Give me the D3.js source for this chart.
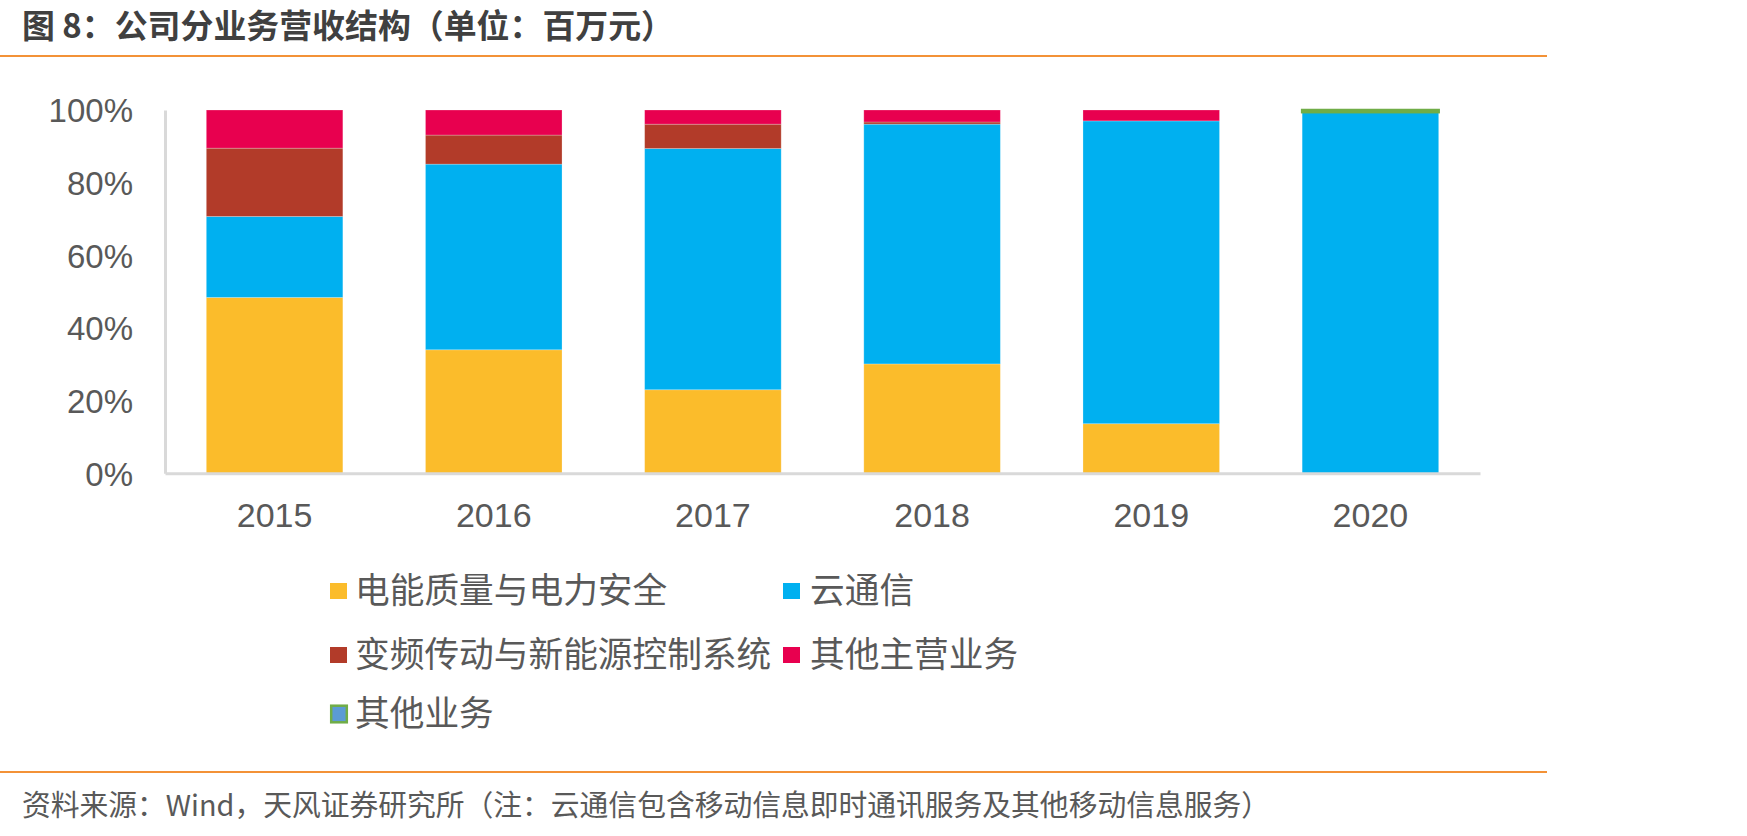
<!DOCTYPE html>
<html>
<head>
<meta charset="utf-8">
<script src="https://cdn.jsdelivr.net/npm/d3@7/dist/d3.min.js"></script>
<style>
  html, body { margin: 0; padding: 0; background: #fff; }
  svg { display: block; }
</style>
</head>
<body>
<svg id="chart" width="1747" height="836"></svg>
<script>
// ---- data ----
const years = ["2015", "2016", "2017", "2018", "2019", "2020"];
const seriesNames = ["电能质量与电力安全", "云通信", "变频传动与新能源控制系统", "其他主营业务", "其他业务"];
const powerQuality = [48.4, 34.0, 23.0, 30.1, 13.65, 0];
const cloudComm    = [22.3, 51.1, 66.4, 66.0, 83.35, 99.4];
const inverter     = [18.8, 8.0, 6.7, 0.6, 0, 0];
const otherMain    = [10.5, 6.9, 3.9, 3.3, 3.0, 0];
const otherBiz     = [0, 0, 0, 0, 0, 0.6];
const yTicks = [0, 20, 40, 60, 80, 100];
const titleText = "图 8：公司分业务营收结构（单位：百万元）";
const sourceText = "资料来源：Wind，天风证券研究所（注：云通信包含移动信息即时通讯服务及其他移动信息服务）";

const colors = ["#FBBC2B", "#00B0F0", "#B23B29", "#E8004F", "#5B9BD5"];
const strokes = [null, null, null, null, "#70AD47"];

const seriesValues = [powerQuality, cloudComm, inverter, otherMain, otherBiz];
const table = years.map((y, i) => {
  const row = { year: y };
  seriesNames.forEach((s, k) => row[s] = seriesValues[k][i]);
  return row;
});

const svg = d3.select("#chart");
const cjk = "'Noto Sans CJK SC', 'Noto Sans', sans-serif";
const latin = "'Liberation Sans', Arial, sans-serif";

// ---- title & rules ----
svg.append("text")
  .attr("x", 22).attr("y", 38)
  .attr("font-family", cjk).attr("font-size", 33).attr("font-weight", 700)
  .attr("fill", "#404040")
  .attr("textLength", 652).attr("lengthAdjust", "spacingAndGlyphs")
  .text(titleText);

svg.append("line").attr("x1", 0).attr("x2", 1547).attr("y1", 56).attr("y2", 56)
  .attr("stroke", "#F39237").attr("stroke-width", 2.2);
svg.append("line").attr("x1", 0).attr("x2", 1547).attr("y1", 772).attr("y2", 772)
  .attr("stroke", "#F39237").attr("stroke-width", 2.2);

svg.append("text")
  .attr("x", 22).attr("y", 816)
  .attr("font-family", cjk).attr("font-size", 29)
  .attr("fill", "#595959")
  .attr("textLength", 1248).attr("lengthAdjust", "spacingAndGlyphs")
  .text(sourceText);

// ---- scales ----
const x = d3.scaleBand().domain(years).range([165, 1480]).paddingInner(0.377).paddingOuter(0.1885);
const y = d3.scaleLinear().domain([0, 100]).range([473.3, 110]);

// ---- bars ----
const stack = d3.stack().keys(seriesNames);
const stacked = stack(table);

const g = svg.append("g");
stacked.forEach((layer, k) => {
  g.selectAll(null)
    .data(layer.filter(d => d[1] - d[0] > 0))
    .enter().append("rect")
    .attr("x", d => x(d.data.year))
    .attr("width", x.bandwidth())
    .attr("y", d => y(d[1]))
    .attr("height", d => y(d[0]) - y(d[1]))
    .attr("fill", colors[k])
    .attr("stroke", strokes[k] || "rgba(255,255,255,0.3)")
    .attr("stroke-width", strokes[k] ? 2.5 : 0.8);
});

// ---- axes ----
const yAxis = svg.append("g").attr("transform", "translate(165,0)")
  .call(d3.axisLeft(y).tickValues(yTicks).tickSize(0).tickPadding(32).tickFormat(d => d + "%"));
yAxis.select(".domain").attr("stroke", "#D9D9D9").attr("stroke-width", 3);
yAxis.selectAll("text")
  .attr("font-family", latin).attr("font-size", 33).attr("fill", "#595959")
  .attr("dy", "0.36em");

const xAxis = svg.append("g").attr("transform", "translate(0,473.3)")
  .call(d3.axisBottom(x).tickSize(0).tickPadding(0));
xAxis.select(".domain").attr("stroke", "#D9D9D9").attr("stroke-width", 3);
xAxis.selectAll("text")
  .attr("font-family", latin).attr("font-size", 34).attr("fill", "#595959")
  .attr("y", 53.5).attr("dy", 0);

// ---- legend ----
const legendItems = [
  { k: 0, sx: 330, tx: 355, cy: 591 },
  { k: 1, sx: 783, tx: 810, cy: 591 },
  { k: 2, sx: 330, tx: 355, cy: 655 },
  { k: 3, sx: 783, tx: 810, cy: 655 },
  { k: 4, sx: 330, tx: 355, cy: 714 }
];
const lg = svg.append("g");
legendItems.forEach(it => {
  if (strokes[it.k]) {
    lg.append("rect").attr("x", it.sx + 1.2).attr("y", it.cy - 8.3).attr("width", 15.6).attr("height", 16.6)
      .attr("fill", colors[it.k]).attr("stroke", strokes[it.k]).attr("stroke-width", 2.5);
  } else {
    lg.append("rect").attr("x", it.sx).attr("y", it.cy - 8).attr("width", 17).attr("height", 16)
      .attr("fill", colors[it.k]);
  }
  lg.append("text").attr("x", it.tx).attr("y", it.cy + 12)
    .attr("font-family", cjk).attr("font-size", 34.7).attr("fill", "#595959")
    .text(seriesNames[it.k]);
});
</script>
</body>
</html>
